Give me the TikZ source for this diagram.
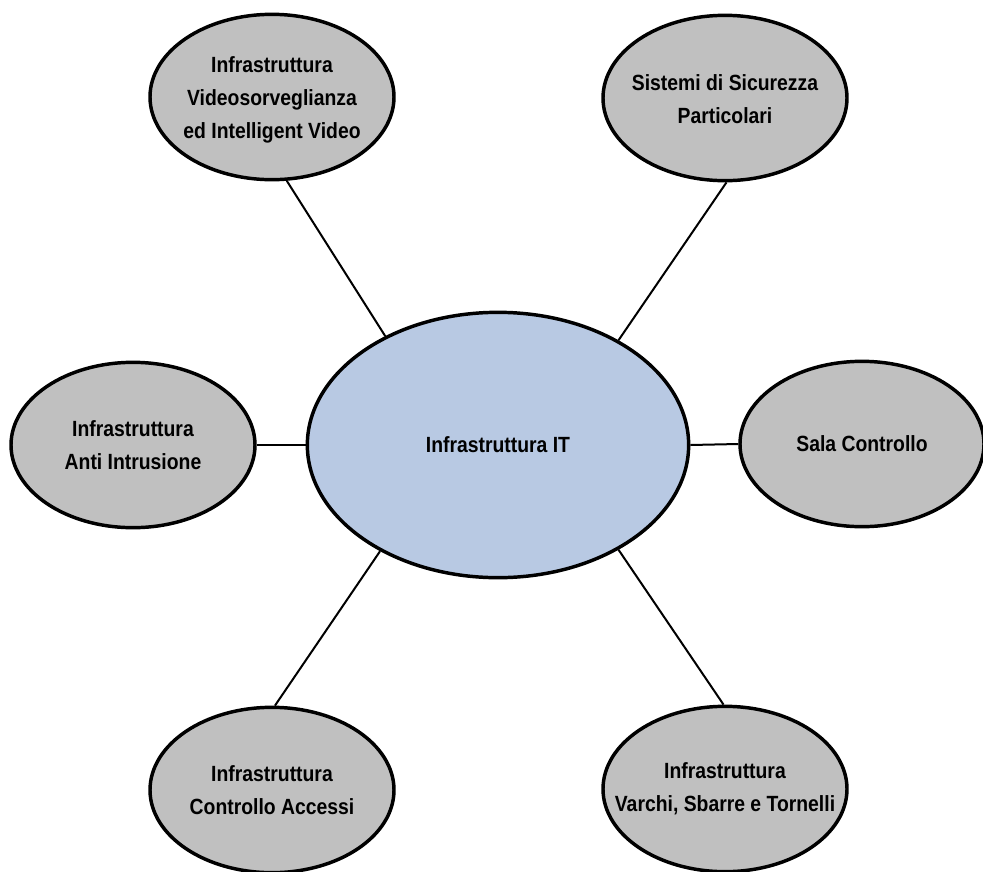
\documentclass[tikz,border=0pt]{standalone}
\usepackage{fontspec}
\setmainfont{Liberation Sans}[FakeStretch=0.88]
\usepackage{xcolor}
\usepackage{tikz}
\usetikzlibrary{
    positioning,
    shapes.geometric
}
\definecolor{bubblegray}{RGB}{192,192,192}
\definecolor{itblue}{RGB}{184,201,227}

\begin{document}
\begin{tikzpicture}[
    x=0.75pt, y=-0.75pt,
    bubble/.style={ellipse, draw=black, line width=2.6pt, fill=bubblegray, minimum width=183pt, minimum height=124pt, inner sep=0pt},
    hub/.style={bubble, fill=itblue, minimum width=286pt, minimum height=199pt},
    bubbletext/.style={align=center, font=\fontsize{16.5}{24.7}\selectfont\bfseries},
    link/.style={line width=1.5pt, draw=black}
]
\useasboundingbox (0,0) rectangle (983,872);

\node[hub] (it) at (498,445) {};
\node[bubbletext] (it-text) at (it) {Infrastruttura IT};

\node[bubble] (video) at (272,97) {};
\node[bubbletext] (video-text) at ([yshift=-2pt]video) {Infrastruttura\\Videosorveglianza\\ed Intelligent Video};

\node[bubble] (sicurezza) at (725,98) {};
\node[bubbletext] (sicurezza-text) at ([yshift=-1pt]sicurezza) {Sistemi di Sicurezza\\Particolari};

\node[bubble] (intrusione) at (133,445) {};
\node[bubbletext] (intrusione-text) at (intrusione) {Infrastruttura\\Anti Intrusione};

\node[bubble] (sala) at (862,444) {};
\node[bubbletext] (sala-text) at (sala) {Sala Controllo};

\node[bubble] (accessi) at (272,790) {};
\node[bubbletext] (accessi-text) at (accessi) {Infrastruttura\\Controllo Accessi};

\node[bubble] (varchi) at (725,789) {};
\node[bubbletext] (varchi-text) at (varchi) {Infrastruttura\\Varchi, Sbarre e Tornelli};

\draw[link] (video.-80) -- (it.136);
\draw[link] (sicurezza.-89) -- (it.41);
\draw[link] (intrusione.east) -- (it.west);
\draw[link] (it.east) -- (sala.west);
\draw[link] (accessi.88) -- (it.222);
\draw[link] (varchi.91) -- (it.-41);
\end{tikzpicture}
\end{document}
